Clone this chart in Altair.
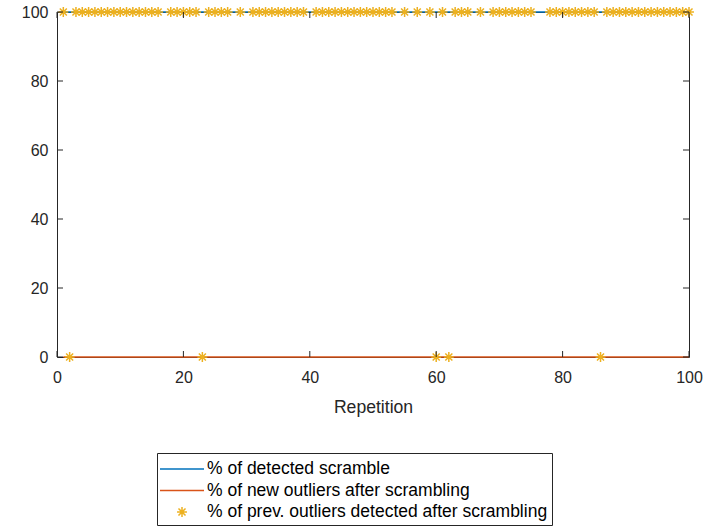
import altair as alt
import pandas as pd

# ---- data ----
repetition = list(range(1, 101))
detected_scramble = [100] * 100
new_outliers = [0] * 100
N = None
prev_outliers = [
    100, 0, 100, 100, 100, 100, 100, 100, 100, 100,      # 1-10
    100, 100, 100, 100, 100, 100, N, 100, 100, 100,      # 11-20
    100, 100, 0, 100, 100, 100, 100, N, 100, N,          # 21-30
    100, 100, 100, 100, 100, 100, 100, 100, 100, N,      # 31-40
    100, 100, 100, 100, 100, 100, 100, 100, 100, 100,    # 41-50
    100, 100, 100, N, 100, N, 100, N, 100, 0,            # 51-60
    100, 0, 100, 100, 100, N, 100, N, 100, 100,          # 61-70
    100, 100, 100, 100, 100, N, N, 100, 100, 100,        # 71-80
    100, 100, 100, 100, 100, 0, 100, 100, 100, 100,      # 81-90
    100, 100, 100, 100, 100, 100, 100, 100, 100, 100,    # 91-100
]
series_names = [
    "% of detected scramble",
    "% of new outliers after scrambling",
    "% of prev. outliers detected after scrambling",
]
series_colors = ["#0072BD", "#D95319", "#EDB120"]
tick_values = [0, 20, 40, 60, 80, 100]

LINE_PATH = "M-2,0L2,0"
STAR_PATH = ("M-0.45,0L0.45,0M0,-0.45L0,0.45"
             "M-0.32,-0.32L0.32,0.32M-0.32,0.32L0.32,-0.32")

rows = []
for r, a, b, c in zip(repetition, detected_scramble, new_outliers, prev_outliers):
    rows.append({"rep": r, "value": a, "series": series_names[0]})
    rows.append({"rep": r, "value": b, "series": series_names[1]})
    if c is not None:
        rows.append({"rep": r, "value": c, "series": series_names[2]})
df = pd.DataFrame(rows)
lines_df = df[df["series"] != series_names[2]]
pts_df = df[df["series"] == series_names[2]]
ticks_df = pd.DataFrame({"t": tick_values})

FONT = "Liberation Sans"
AX = "#262626"

xscale = alt.Scale(domain=[0, 100], nice=False)
yscale = alt.Scale(domain=[0, 100], nice=False)

def make_legend():
    return alt.Legend(
        title=None, orient="none", legendX=100, legendY=441,
        direction="vertical", strokeColor=AX, fillColor="white",
        padding=4, symbolSize=484, symbolStrokeWidth=1.5,
        symbolOffset=9, labelOffset=13, labelLimit=600,
        labelFontSize=17.5, labelFont=FONT, labelColor="black",
        rowPadding=0.5, cornerRadius=0,
    )

color_enc = alt.Color(
    "series:N",
    scale=alt.Scale(domain=series_names, range=series_colors),
    legend=make_legend(),
)
shape_enc = alt.Shape(
    "series:N",
    scale=alt.Scale(domain=series_names, range=[LINE_PATH, LINE_PATH, STAR_PATH]),
    legend=make_legend(),
)

x_axis = alt.Axis(values=tick_values, ticks=False, domain=False, grid=False,
                  labelFlush=False,
                  labelFont=FONT, labelFontSize=16, labelColor=AX, labelPadding=12,
                  title="Repetition", titleFont=FONT, titleFontSize=17.6,
                  titleFontWeight="normal", titleColor=AX, titlePadding=13)
y_axis = alt.Axis(values=tick_values, ticks=False, domain=False, grid=False,
                  labelFlush=False,
                  labelFont=FONT, labelFontSize=16, labelColor=AX, labelPadding=9,
                  title=None)

lines = alt.Chart(lines_df).mark_line(strokeWidth=1.5).encode(
    x=alt.X("rep:Q", scale=xscale, axis=x_axis),
    y=alt.Y("value:Q", scale=yscale, axis=y_axis),
    color=color_enc,
    detail="series:N",
)
points = alt.Chart(pts_df).mark_point(filled=False, strokeWidth=1.5, size=484, opacity=1).encode(
    x=alt.X("rep:Q", scale=xscale),
    y=alt.Y("value:Q", scale=yscale),
    color=color_enc,
    shape=shape_enc,
)

tick_l = alt.Chart(ticks_df).mark_rule(color=AX, strokeWidth=1).encode(
    y=alt.Y("t:Q", scale=yscale), x=alt.value(0), x2=alt.value(6))
tick_r = alt.Chart(ticks_df).mark_rule(color=AX, strokeWidth=1).encode(
    y=alt.Y("t:Q", scale=yscale), x=alt.value(626), x2=alt.value(632))
tick_b = alt.Chart(ticks_df).mark_rule(color=AX, strokeWidth=1).encode(
    x=alt.X("t:Q", scale=xscale), y=alt.value(345), y2=alt.value(339))
tick_t = alt.Chart(ticks_df).mark_rule(color=AX, strokeWidth=1).encode(
    x=alt.X("t:Q", scale=xscale), y=alt.value(0), y2=alt.value(6))

chart = alt.layer(lines, points, tick_l, tick_r, tick_b, tick_t).properties(
    width=632, height=345,
    autosize=alt.AutoSizeParams(type="none"),
    padding={"left": 57, "top": 12, "right": 30, "bottom": 172},
    background="white",
).configure_view(stroke=AX, strokeWidth=1)

chart.save("out.html", embed_options={"renderer": "svg", "actions": False})
